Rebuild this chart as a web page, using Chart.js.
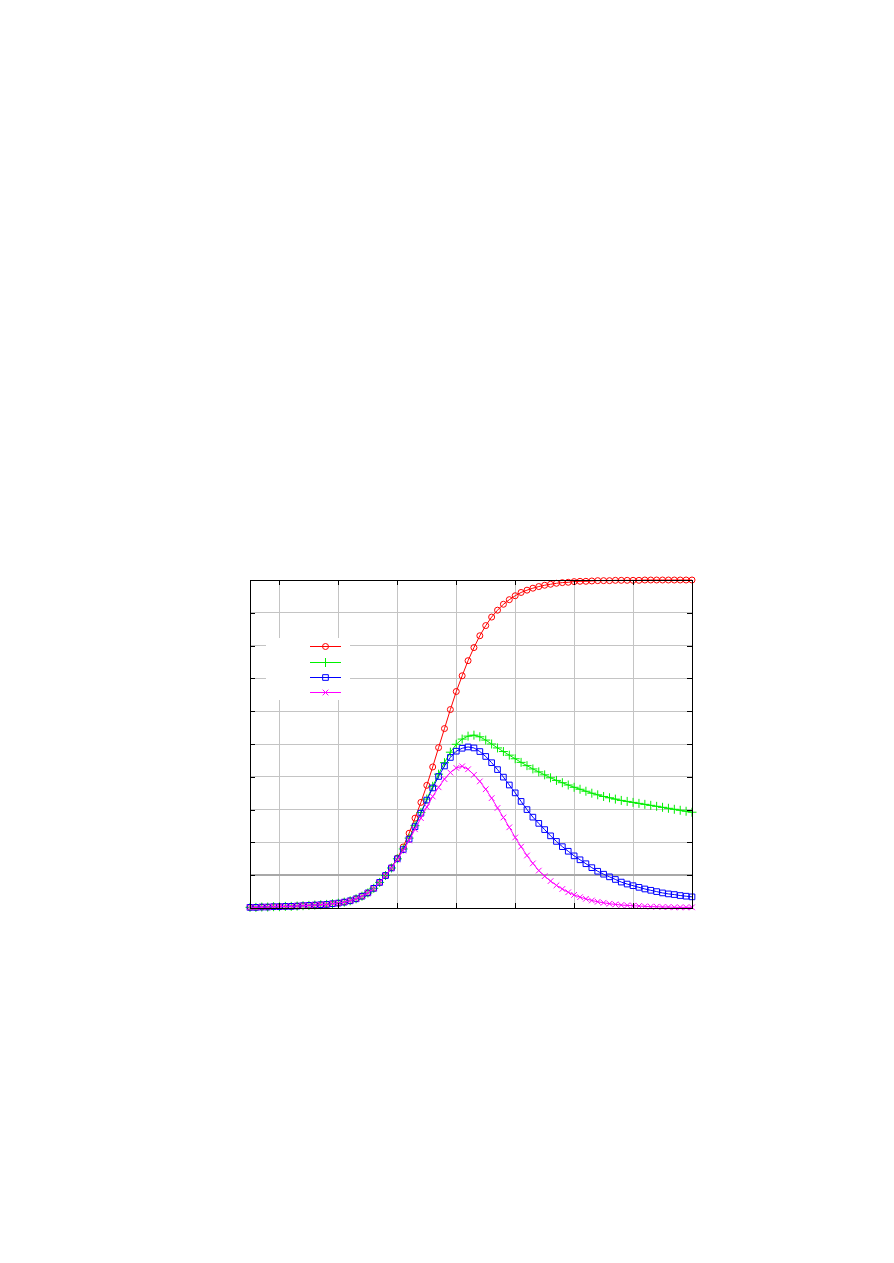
<!DOCTYPE html>
<html>
<head>
<meta charset="utf-8">
<script src="https://cdn.jsdelivr.net/npm/chart.js@4.4.0/dist/chart.umd.min.js"></script>
<style>
  html, body { margin: 0; padding: 0; background: #ffffff; }
  #plot { display: block; }
</style>
</head>
<body>
<canvas id="plot" width="894" height="1263"></canvas>
<script>
// time steps (x)
const steps = [
  0.0, 0.2, 0.4, 0.6, 0.8, 1.0, 1.2, 1.4, 1.6, 1.8,
  2.0, 2.2, 2.4, 2.6, 2.8, 3.0, 3.2, 3.4, 3.6, 3.8,
  4.0, 4.2, 4.4, 4.6, 4.8, 5.0, 5.2, 5.4, 5.6, 5.8,
  6.0, 6.2, 6.4, 6.6, 6.8, 7.0, 7.2, 7.4, 7.6, 7.8,
  8.0, 8.2, 8.4, 8.6, 8.8, 9.0, 9.2, 9.4, 9.6, 9.8,
  10.0, 10.2, 10.4, 10.6, 10.8, 11.0, 11.2, 11.4, 11.6, 11.8,
  12.0, 12.2, 12.4, 12.6, 12.8, 13.0, 13.2, 13.4, 13.6, 13.8,
  14.0, 14.2, 14.4, 14.6, 14.8, 15.0
];

const redSeries = [
  0.002, 0.002, 0.003, 0.003, 0.004, 0.004, 0.005, 0.005, 0.006, 0.007,
  0.008, 0.009, 0.010, 0.011, 0.013, 0.015, 0.018, 0.022, 0.028, 0.036,
  0.046, 0.060, 0.078, 0.099, 0.123, 0.152, 0.186, 0.228, 0.274, 0.322,
  0.374, 0.430, 0.489, 0.547, 0.605, 0.660, 0.708, 0.754, 0.794, 0.830,
  0.861, 0.887, 0.908, 0.926, 0.940, 0.952, 0.962, 0.969, 0.975, 0.980,
  0.984, 0.987, 0.990, 0.992, 0.993, 0.995, 0.996, 0.996, 0.997, 0.998,
  0.998, 0.998, 0.999, 0.999, 0.999, 0.999, 0.999, 1.000, 1.000, 1.000,
  1.000, 1.000, 1.000, 1.000, 1.000, 1.000
];

const greenSeries = [
  0.002, 0.002, 0.003, 0.003, 0.004, 0.004, 0.005, 0.005, 0.006, 0.007,
  0.008, 0.009, 0.010, 0.011, 0.013, 0.015, 0.018, 0.022, 0.028, 0.036,
  0.046, 0.060, 0.078, 0.099, 0.122, 0.150, 0.180, 0.213, 0.251, 0.291,
  0.332, 0.371, 0.408, 0.443, 0.475, 0.499, 0.515, 0.524, 0.527, 0.522,
  0.512, 0.500, 0.488, 0.477, 0.466, 0.455, 0.444, 0.434, 0.424, 0.415,
  0.406, 0.397, 0.389, 0.382, 0.375, 0.368, 0.362, 0.356, 0.350, 0.345,
  0.340, 0.336, 0.332, 0.328, 0.325, 0.322, 0.319, 0.316, 0.313, 0.310,
  0.307, 0.304, 0.301, 0.298, 0.295, 0.292
];

const blueSeries = [
  0.002, 0.002, 0.003, 0.003, 0.004, 0.004, 0.005, 0.005, 0.006, 0.007,
  0.008, 0.009, 0.010, 0.011, 0.013, 0.015, 0.018, 0.022, 0.028, 0.036,
  0.046, 0.060, 0.078, 0.099, 0.122, 0.150, 0.178, 0.210, 0.248, 0.289,
  0.329, 0.366, 0.401, 0.433, 0.459, 0.478, 0.487, 0.491, 0.488, 0.477,
  0.462, 0.443, 0.422, 0.399, 0.375, 0.351, 0.325, 0.300, 0.277, 0.258,
  0.239, 0.220, 0.203, 0.187, 0.173, 0.159, 0.147, 0.135, 0.123, 0.112,
  0.103, 0.095, 0.087, 0.079, 0.073, 0.068, 0.063, 0.058, 0.054, 0.050,
  0.046, 0.043, 0.041, 0.038, 0.036, 0.034
];

const magentaSeries = [
  0.002, 0.002, 0.003, 0.003, 0.004, 0.004, 0.005, 0.005, 0.006, 0.007,
  0.008, 0.009, 0.010, 0.011, 0.013, 0.015, 0.018, 0.022, 0.028, 0.036,
  0.046, 0.060, 0.078, 0.099, 0.122, 0.148, 0.175, 0.206, 0.240, 0.274,
  0.308, 0.340, 0.368, 0.393, 0.413, 0.427, 0.432, 0.423, 0.406, 0.386,
  0.362, 0.335, 0.305, 0.276, 0.246, 0.215, 0.187, 0.160, 0.136, 0.114,
  0.097, 0.082, 0.069, 0.058, 0.048, 0.040, 0.033, 0.028, 0.023, 0.019,
  0.016, 0.013, 0.011, 0.009, 0.008, 0.007, 0.006, 0.005, 0.004, 0.004,
  0.003, 0.003, 0.002, 0.002, 0.002, 0.002
];

// grid positions on the axes
const xGridTicks = [1, 3, 5, 7, 9, 11, 13];
const yGridTicks = [0.1, 0.2, 0.3, 0.4, 0.5, 0.6, 0.7, 0.8, 0.9];

const toPoints = (vals) => vals.map((v, i) => ({ x: steps[i], y: v }));

const makeSet = (data, color, style, radius, order) => ({
  data: toPoints(data),
  borderColor: color,
  backgroundColor: 'rgba(0,0,0,0)',
  borderWidth: 1,
  pointStyle: style,
  pointRadius: radius,
  pointBorderWidth: 1,
  pointBorderColor: color,
  pointBackgroundColor: 'rgba(0,0,0,0)',
  tension: 0,
  clip: false,
  order: order
});

// frame, inner tick marks and the key box
const framePlugin = {
  id: 'frame',
  beforeDatasetsDraw(chart) {
    const c = chart.ctx;
    c.save();
    c.fillStyle = '#ffffff';
    c.fillRect(266, 638, 84, 62);
    c.restore();
  },
  afterDatasetsDraw(chart) {
    const c = chart.ctx;
    const { left, right, top, bottom } = chart.chartArea;
    const xs = chart.scales.x, ys = chart.scales.y;
    c.save();
    c.strokeStyle = '#000000';
    c.lineWidth = 1;
    c.strokeRect(Math.round(left) + 0.5, Math.round(top) + 0.5,
                 Math.round(right - left), Math.round(bottom - top));
    c.beginPath();
    yGridTicks.forEach(v => {
      const y = Math.round(ys.getPixelForValue(v)) + 0.5;
      c.moveTo(left, y); c.lineTo(left + 5, y);
      c.moveTo(right, y); c.lineTo(right - 5, y);
    });
    xGridTicks.forEach(v => {
      const x = Math.round(xs.getPixelForValue(v)) + 0.5;
      c.moveTo(x, bottom); c.lineTo(x, bottom - 5);
      c.moveTo(x, top); c.lineTo(x, top + 5);
    });
    c.stroke();

    // key entries: line sample plus marker, no labels
    const rows = [646, 662, 677, 692];
    const sets = chart.data.datasets;
    rows.forEach((y, k) => {
      const ds = sets[k];
      c.strokeStyle = ds.borderColor;
      c.lineWidth = 1;
      c.beginPath();
      c.moveTo(310, y + 0.5); c.lineTo(341, y + 0.5);
      c.stroke();
      Chart.helpers.drawPoint(c, {
        pointStyle: ds.pointStyle, radius: ds.pointRadius,
        rotation: 0, borderWidth: 1
      }, 325.5, y + 0.5);
    });
    c.restore();
  }
};

new Chart(document.getElementById('plot'), {
  type: 'line',
  data: {
    datasets: [
      makeSet(redSeries, '#ff0000', 'circle', 3, 3),
      makeSet(greenSeries, '#00ee00', 'cross', 4.5, 2),
      makeSet(blueSeries, '#0000ff', 'rect', 4, 1),
      makeSet(magentaSeries, '#ff00ff', 'crossRot', 4, 0)
    ]
  },
  options: {
    responsive: false,
    animation: false,
    layout: { padding: { left: 250, right: 202, top: 580, bottom: 355 } },
    plugins: { legend: { display: false }, tooltip: { enabled: false } },
    scales: {
      x: {
        type: 'linear', min: 0, max: 15,
        afterBuildTicks: (axis) => { axis.ticks = xGridTicks.map(v => ({ value: v })); },
        ticks: { display: false },
        grid: { color: '#c4c4c4', lineWidth: 1, drawTicks: false },
        border: { display: false }
      },
      y: {
        type: 'linear', min: 0, max: 1,
        afterBuildTicks: (axis) => { axis.ticks = yGridTicks.map(v => ({ value: v })); },
        ticks: { display: false },
        grid: {
          color: (ctx) => (ctx.tick && Math.abs(ctx.tick.value - 0.1) < 1e-6) ? '#a8a8a8' : '#c4c4c4',
          lineWidth: (ctx) => (ctx.tick && Math.abs(ctx.tick.value - 0.1) < 1e-6) ? 2 : 1,
          drawTicks: false
        },
        border: { display: false }
      }
    }
  },
  plugins: [framePlugin]
});
</script>
</body>
</html>
